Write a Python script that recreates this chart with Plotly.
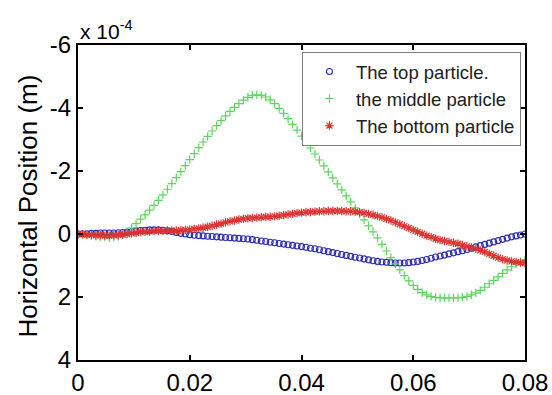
import numpy as np
import plotly.graph_objects as go

# time samples (s): 101 samples from 0 to 0.08
t = np.linspace(0.0, 0.08, 101)

# horizontal position, in units of 1e-4 m
top_particle = [
    0.00, -0.01, -0.01, -0.02, -0.02, -0.03, -0.03, -0.03, -0.03, -0.04,
    -0.05, -0.06, -0.08, -0.10, -0.11, -0.12, -0.13, -0.13, -0.13, -0.12,
    -0.10, -0.08, -0.05, -0.02, 0.00, 0.02, 0.04, 0.05, 0.06, 0.07,
    0.08, 0.09, 0.10, 0.11, 0.12, 0.13, 0.14, 0.15, 0.16, 0.18,
    0.20, 0.22, 0.24, 0.26, 0.28, 0.30, 0.32, 0.34, 0.36, 0.38,
    0.40, 0.42, 0.45, 0.47, 0.50, 0.53, 0.56, 0.59, 0.62, 0.65,
    0.68, 0.71, 0.74, 0.76, 0.79, 0.82, 0.85, 0.87, 0.89, 0.90,
    0.91, 0.92, 0.92, 0.92, 0.91, 0.89, 0.87, 0.84, 0.81, 0.77,
    0.73, 0.70, 0.67, 0.63, 0.60, 0.56, 0.53, 0.49, 0.45, 0.41,
    0.37, 0.33, 0.29, 0.25, 0.21, 0.17, 0.13, 0.09, 0.06, 0.03,
    0.00,
]

middle_particle = [
    0.00, 0.01, 0.03, 0.05, 0.07, 0.09, 0.10, 0.11, 0.10, 0.07,
    0.02, -0.07, -0.19, -0.33, -0.47, -0.61, -0.76, -0.91, -1.07, -1.24,
    -1.42, -1.60, -1.79, -1.98, -2.17, -2.36, -2.55, -2.74, -2.92, -3.10,
    -3.27, -3.44, -3.60, -3.75, -3.89, -4.02, -4.14, -4.25, -4.34, -4.40,
    -4.42, -4.40, -4.35, -4.26, -4.14, -3.99, -3.83, -3.66, -3.48, -3.30,
    -3.11, -2.92, -2.73, -2.54, -2.35, -2.16, -1.97, -1.78, -1.59, -1.40,
    -1.21, -1.02, -0.83, -0.64, -0.45, -0.26, -0.07, 0.12, 0.33, 0.54,
    0.75, 0.95, 1.14, 1.32, 1.49, 1.63, 1.76, 1.86, 1.93, 1.98,
    2.01, 2.03, 2.03, 2.03, 2.03, 2.03, 2.01, 1.98, 1.93, 1.87,
    1.79, 1.69, 1.58, 1.47, 1.36, 1.25, 1.14, 1.04, 0.95, 0.88,
    0.83,
]

bottom_particle = [
    0.00, 0.01, 0.02, 0.03, 0.04, 0.04, 0.05, 0.05, 0.04, 0.03,
    0.02, 0.00, -0.02, -0.04, -0.06, -0.07, -0.08, -0.09, -0.10, -0.10,
    -0.11, -0.11, -0.11, -0.12, -0.13, -0.14, -0.16, -0.18, -0.20, -0.23,
    -0.26, -0.30, -0.33, -0.37, -0.40, -0.43, -0.46, -0.48, -0.50, -0.51,
    -0.52, -0.53, -0.54, -0.55, -0.56, -0.58, -0.60, -0.62, -0.64, -0.66,
    -0.68, -0.69, -0.70, -0.71, -0.72, -0.72, -0.73, -0.73, -0.73, -0.73,
    -0.72, -0.72, -0.71, -0.69, -0.67, -0.64, -0.61, -0.57, -0.53, -0.48,
    -0.43, -0.37, -0.31, -0.25, -0.19, -0.13, -0.07, -0.01, 0.05, 0.10,
    0.15, 0.19, 0.22, 0.25, 0.28, 0.31, 0.35, 0.39, 0.43, 0.47,
    0.52, 0.57, 0.63, 0.69, 0.75, 0.80, 0.84, 0.87, 0.89, 0.91,
    0.92,
]

x_ticks = [0, 0.02, 0.04, 0.06, 0.08]
x_tick_labels = ["0", "0.02", "0.04", "0.06", "0.08"]
y_ticks = [-6, -4, -2, 0, 2, 4]
y_tick_labels = ["-6", "-4", "-2", "0", "2", "4"]

names = ["The top particle.", "the middle particle", "The bottom particle"]

FONT = "Arial, Liberation Sans, Helvetica, sans-serif"

fig = go.Figure()
fig.add_trace(go.Scatter(
    x=t, y=top_particle, mode="markers", name=names[0],
    marker=dict(symbol="circle-open", size=6, color="#2b2bb0",
                line=dict(width=1.1, color="#2b2bb0")),
))
fig.add_trace(go.Scatter(
    x=t, y=middle_particle, mode="markers", name=names[1],
    marker=dict(symbol="cross-thin", size=6, color="#5cd65c",
                line=dict(width=1.2, color="#5cd65c")),
))
fig.add_trace(go.Scatter(
    x=t, y=bottom_particle, mode="markers", name=names[2],
    marker=dict(symbol="asterisk-open", size=7, color="#dc3232",
                line=dict(width=1.2, color="#dc3232")),
))

fig.update_layout(
    width=552, height=395, autosize=False,
    margin=dict(l=78, r=27, t=45, b=35, autoexpand=False),
    paper_bgcolor="white", plot_bgcolor="white",
    font=dict(family=FONT, size=24, color="black"),
    showlegend=True,
    legend=dict(
        x=0.501, y=0.978, xanchor="left", yanchor="top",
        bgcolor="white", bordercolor="#7f7f7f", borderwidth=1,
        font=dict(family=FONT, size=18.5, color="#202020"),
        itemwidth=43, tracegroupgap=0,
    ),
    xaxis=dict(
        range=[0, 0.08], tickvals=x_ticks, ticktext=x_tick_labels,
        automargin=False,
        showgrid=False, zeroline=False,
        showline=True, linecolor="black", linewidth=2, mirror="ticks",
        ticks="inside", ticklen=5, tickwidth=1.5, tickcolor="black",
        tickfont=dict(family=FONT, size=24, color="black"),
    ),
    yaxis=dict(
        range=[4, -6], tickvals=y_ticks, ticktext=y_tick_labels,
        automargin=False,
        showgrid=False, zeroline=False,
        showline=True, linecolor="black", linewidth=2, mirror="ticks",
        ticks="inside", ticklen=5, tickwidth=1.5, tickcolor="black",
        tickfont=dict(family=FONT, size=24, color="black"),
    ),
    annotations=[
        dict(text="Horizontal Position (m)", textangle=-90,
             xref="paper", yref="paper", x=-0.112, y=0.49,
             xanchor="center", yanchor="middle", showarrow=False,
             font=dict(family=FONT, size=26, color="black")),
        dict(text="x 10<sup>-4</sup>",
             xref="paper", yref="paper", x=0.0, y=1.0,
             xanchor="left", yanchor="bottom", showarrow=False,
             font=dict(family=FONT, size=21, color="black")),
    ],
)

fig.write_html("out.html")
